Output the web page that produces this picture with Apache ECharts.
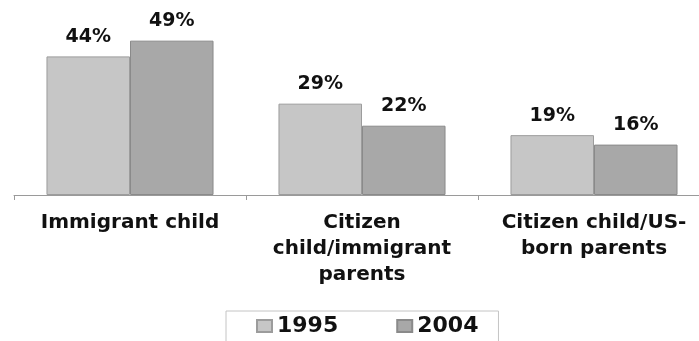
<!DOCTYPE html>
<html>
<head>
<meta charset="utf-8">
<script src="https://cdn.jsdelivr.net/npm/echarts@6/dist/echarts.min.js"></script>
<style>
html,body{margin:0;padding:0;background:#fff;overflow:hidden;width:699px;height:341px;}
#c{width:710px;height:341px;}
</style>
</head>
<body>
<div id="c"></div>
<script>
const categories = ['Immigrant child', 'Citizen\nchild/immigrant\nparents', 'Citizen child/US-\nborn parents'];
const seriesNames = ['1995', '2004'];
const values1995 = [44, 29, 19];
const values2004 = [49, 22, 16];

const chart = echarts.init(document.getElementById('c'), null, {renderer: 'canvas'});
const labelStyle = {
  show: true,
  position: 'top',
  distance: 10,
  formatter: '{c}%',
  fontFamily: 'DejaVu Sans',
  fontWeight: 'bold',
  fontSize: 19,
  color: '#111'
};
chart.setOption({
  animation: false,
  backgroundColor: '#fff',
  grid: {left: 14, right: 0, top: 6, height: 189, containLabel: false},
  xAxis: {
    type: 'category',
    data: categories,
    axisLine: {show: true, lineStyle: {color: '#9a9a9a', width: 1}},
    axisTick: {show: true, length: 5, lineStyle: {color: '#9a9a9a'}},
    axisLabel: {
      interval: 0,
      margin: 15,
      fontFamily: 'DejaVu Sans',
      fontWeight: 'bold',
      fontSize: 20,
      lineHeight: 26,
      color: '#111'
    }
  },
  yAxis: {
    type: 'value',
    min: 0,
    max: 60,
    show: false,
    splitLine: {show: false}
  },
  legend: {
    left: 226,
    top: 311,
    padding: [4, 20, 6, 30],
    itemGap: 58,
    itemWidth: 15,
    itemHeight: 12,
    icon: 'rect',
    borderColor: '#c4c4c4',
    borderWidth: 1,
    textStyle: {fontFamily: 'DejaVu Sans', fontWeight: 'bold', fontSize: 22, color: '#111'},
    data: seriesNames
  },
  series: [
    {
      name: seriesNames[0],
      type: 'bar',
      data: values1995,
      barGap: '0%',
      barCategoryGap: '28%',
      itemStyle: {color: '#c6c6c6', borderColor: '#9c9c9c', borderWidth: 1},
      label: labelStyle
    },
    {
      name: seriesNames[1],
      type: 'bar',
      data: values2004,
      barGap: '0%',
      barCategoryGap: '28%',
      itemStyle: {color: '#a8a8a8', borderColor: '#8a8a8a', borderWidth: 1},
      label: labelStyle
    }
  ]
});
</script>
</body>
</html>
